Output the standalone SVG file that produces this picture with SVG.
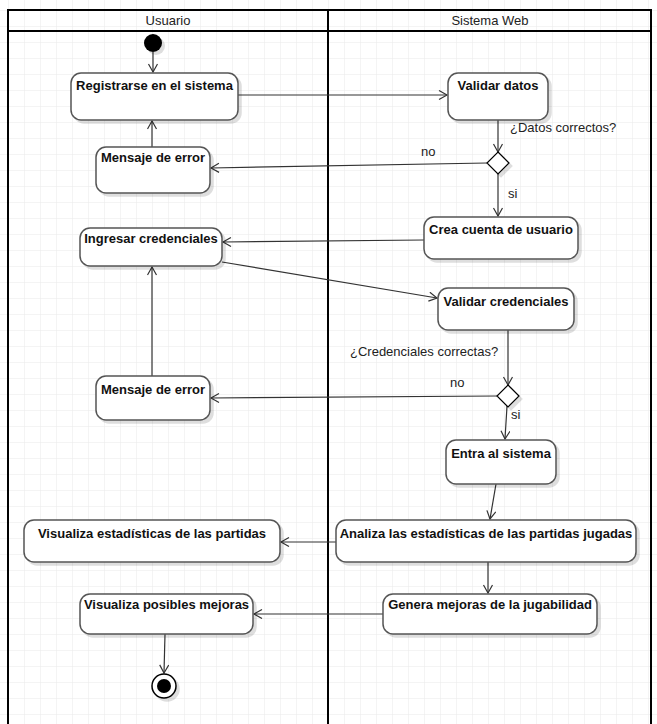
<svg xmlns="http://www.w3.org/2000/svg" width="657" height="724" viewBox="0 0 657 724">
<defs>
<pattern id="grid" x="8" y="10" width="16" height="16" patternUnits="userSpaceOnUse">
<path d="M0,0 H16 M0,0 V16" fill="none" stroke="#e9e9e9" stroke-width="1"/>
</pattern>
<marker id="arr" markerWidth="12" markerHeight="12" refX="9" refY="5" orient="auto" markerUnits="userSpaceOnUse">
<path d="M1,0.5 L9,5 L1,9.5" fill="none" stroke="#333" stroke-width="1.2"/>
</marker>
<filter id="sh" x="-10%" y="-10%" width="130%" height="140%">
<feOffset dx="3" dy="3" in="SourceAlpha" result="o"/>
<feColorMatrix in="o" type="matrix" values="0 0 0 0 0  0 0 0 0 0  0 0 0 0 0  0 0 0 0.13 0"/>
<feMerge><feMergeNode/><feMergeNode in="SourceGraphic"/></feMerge>
</filter>
</defs>
<style>
.box{fill:#fff;stroke:#555;stroke-width:1.5;filter:url(#sh)}
.t{font-family:"Liberation Sans",Arial,sans-serif;font-size:13px;font-weight:bold;fill:#111;text-anchor:middle}
.lbl{font-family:"Liberation Sans",Arial,sans-serif;font-size:13px;fill:#222}
.hd{font-family:"Liberation Sans",Arial,sans-serif;font-size:13px;fill:#222;text-anchor:middle}
.c{fill:none;stroke:#333;stroke-width:1.2;marker-end:url(#arr)}
</style>
<rect width="657" height="724" fill="#fff"/>
<rect width="657" height="724" fill="url(#grid)"/>
<g id="lanes">
<rect x="8" y="10" width="643" height="720" fill="none" stroke="#000" stroke-width="2"/>
<line x1="8" y1="31" x2="651" y2="31" stroke="#000" stroke-width="2"/>
<line x1="328" y1="10" x2="328" y2="724" stroke="#000" stroke-width="2"/>
<text class="hd" x="168" y="25">Usuario</text>
<text class="hd" x="490" y="25">Sistema Web</text>
</g>
<g id="connectors">
<line class="c" x1="153" y1="52" x2="153" y2="72"/>
<line class="c" x1="238" y1="95" x2="447" y2="95"/>
<line class="c" x1="498" y1="120" x2="498" y2="152"/>
<line class="c" x1="487" y1="163" x2="211" y2="168"/>
<line class="c" x1="152" y1="147" x2="152" y2="121"/>
<line class="c" x1="498" y1="174" x2="498" y2="216"/>
<line class="c" x1="424" y1="240" x2="223" y2="242"/>
<line class="c" x1="222" y1="262" x2="437" y2="298"/>
<line class="c" x1="508" y1="330" x2="508" y2="385"/>
<line class="c" x1="497" y1="396" x2="211" y2="398"/>
<line class="c" x1="152" y1="376" x2="152" y2="267"/>
<line class="c" x1="507" y1="406" x2="505" y2="439"/>
<line class="c" x1="496" y1="484" x2="490" y2="519"/>
<line class="c" x1="336" y1="542" x2="281" y2="542"/>
<line class="c" x1="488" y1="562" x2="488" y2="593"/>
<line class="c" x1="383" y1="614" x2="254" y2="614"/>
<line class="c" x1="165" y1="634" x2="164" y2="673"/>
<text class="lbl" x="510" y="132">¿Datos correctos?</text>
<text class="lbl" x="421" y="156">no</text>
<text class="lbl" x="508" y="198">si</text>
<text class="lbl" x="350" y="356">¿Credenciales correctas?</text>
<text class="lbl" x="450" y="387">no</text>
<text class="lbl" x="511" y="419">si</text>
</g>
<g id="start"><circle cx="153" cy="43" r="9" fill="#000" filter="url(#sh)"/></g>
<g id="n1"><rect class="box" x="71" y="73" width="167" height="47" rx="10"/><text class="t" x="154.5" y="90">Registrarse en el sistema</text></g>
<g id="n2"><rect class="box" x="448" y="73" width="100" height="47" rx="10"/><text class="t" x="498" y="90">Validar datos</text></g>
<g id="d1"><path d="M498,152 L509,163 L498,174 L487,163 Z" fill="#fff" stroke="#000" stroke-width="1.2" filter="url(#sh)"/></g>
<g id="n3"><rect class="box" x="96" y="147" width="114" height="46" rx="10"/><text class="t" x="153" y="162">Mensaje de error</text></g>
<g id="n4"><rect class="box" x="424" y="217" width="154" height="42" rx="10"/><text class="t" x="501" y="234">Crea cuenta de usuario</text></g>
<g id="n5"><rect class="box" x="80" y="228" width="142" height="38" rx="10"/><text class="t" x="151" y="243">Ingresar credenciales</text></g>
<g id="n6"><rect class="box" x="438" y="288" width="136" height="42" rx="10"/><text class="t" x="506" y="306">Validar credenciales</text></g>
<g id="d2"><path d="M508,385 L519,396 L508,407 L497,396 Z" fill="#fff" stroke="#000" stroke-width="1.2" filter="url(#sh)"/></g>
<g id="n7"><rect class="box" x="96" y="376" width="114" height="44" rx="10"/><text class="t" x="153" y="394">Mensaje de error</text></g>
<g id="n8"><rect class="box" x="446" y="440" width="110" height="44" rx="10"/><text class="t" x="501" y="458">Entra al sistema</text></g>
<g id="n9"><rect class="box" x="336" y="520" width="300" height="42" rx="10"/><text class="t" x="486" y="538">Analiza las estadísticas de las partidas jugadas</text></g>
<g id="n10"><rect class="box" x="24" y="520" width="256" height="42" rx="10"/><text class="t" x="152" y="538">Visualiza estadísticas de las partidas</text></g>
<g id="n11"><rect class="box" x="383" y="594" width="214" height="40" rx="10"/><text class="t" x="490" y="609">Genera mejoras de la jugabilidad</text></g>
<g id="n12"><rect class="box" x="80" y="594" width="173" height="40" rx="10"/><text class="t" x="166.5" y="609">Visualiza posibles mejoras</text></g>
<g id="end"><circle cx="164" cy="686" r="12" fill="#fff" stroke="#000" stroke-width="1.5" filter="url(#sh)"/><circle cx="164" cy="686" r="7" fill="#000"/></g>
</svg>
